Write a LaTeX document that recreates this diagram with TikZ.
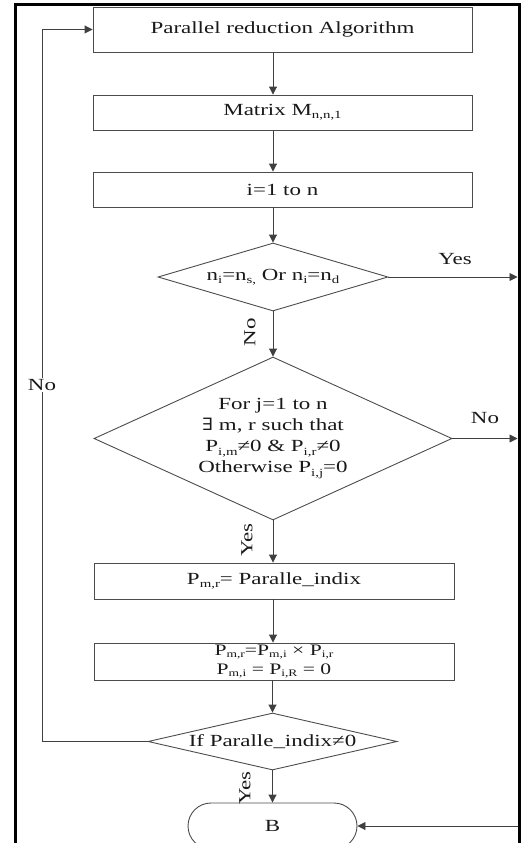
\documentclass[tikz,border=0pt]{standalone}
\usepackage{fontspec}
\setmainfont{Liberation Serif}[FakeStretch=1.35]
\newfontfamily\symfont{DejaVu Serif}[FakeStretch=1.2]
\usetikzlibrary{shapes.geometric,shapes.misc,arrows.meta}
\newcommand{\sbs}[1]{\raisebox{-0.4ex}{\fontsize{11}{11}\selectfont #1}}
\newcommand{\sbt}[1]{\raisebox{-0.25ex}{\fontsize{10}{10}\selectfont #1}}
\begin{document}
\begin{tikzpicture}[x=1pt,y=-1pt,
  txt/.style={font=\fontsize{17}{21}\selectfont, text=black!90},
  box/.style={txt, draw=black!70, line width=0.9pt, rectangle, inner sep=0pt},
  dec/.style={txt, draw=black!70, line width=0.9pt, diamond, inner sep=0pt, align=center},
  term/.style={txt, draw=black!70, line width=0.9pt, rounded rectangle, inner sep=0pt},
  arr/.style={draw=black!75, line width=0.9pt, -{Triangle[length=8pt,width=8pt]}},
  lbl/.style={txt, inner sep=1pt},
  frame/.style={draw=black, line width=3pt}]
\clip (0,0) rectangle (528,843);
\useasboundingbox (0,0) rectangle (528,843);

% outer frame
\draw[frame] (15,850) -- (15,5) -- (519,5) -- (519,850);
\coordinate (fr) at (517.5,5);
\coordinate (lp) at (42,30);

% nodes
\node[box, minimum width=379pt, minimum height=45pt] (b1) at (282.5,29.5) {Parallel reduction Algorithm};
\node[box, minimum width=379pt, minimum height=35pt] (b2) at (282.5,112.5) {Matrix M\sbs{n,n,1}};
\node[box, minimum width=379pt, minimum height=35pt] (b3) at (282.5,189.5) {i=1 to n};
\node[dec, minimum width=230pt, minimum height=68pt, aspect=3.4] (d1) at (273,277) {n\sbs{i}=n\sbs{s,} Or n\sbs{i}=n\sbs{d}};
\node[dec, minimum width=358pt, minimum height=163pt, aspect=2.2] (d2) at (273,438.5)
  {For j=1 to n\\ {\symfont ∃} m, r such that\\ P\sbs{i,m}≠0 \& P\sbs{i,r}≠0\\ Otherwise P\sbs{i,j}=0};
\node[box, minimum width=360pt, minimum height=36pt] (b4) at (274,581) {P\sbs{m,r}= Paralle\_indix};
\node[box, minimum width=360pt, minimum height=37pt, align=center, font=\fontsize{16}{19}\selectfont] (b5) at (274,661.5)
  {P\sbt{m,r}=P\sbt{m,i} × P\sbt{i,r}\\ P\sbt{m,i} = P\sbt{i,R} = 0};
\node[dec, minimum width=249pt, minimum height=57pt, label={[txt]center:If Paralle\_indix≠0}] (d3) at (272.5,741.5) {};
\node[term, minimum width=169pt, minimum height=46pt] (B) at (272.5,826) {B};

% connectors
\draw[arr] (b1.south -| d1.north) -- (b2.north -| d1.north);
\draw[arr] (b2.south -| d1.north) -- (b3.north -| d1.north);
\draw[arr] (b3.south -| d1.north) -- (d1.north);
\draw[arr] (d1.south) -- (d2.north);
\draw[arr] (d2.south) -- (b4.north -| d2.south);
\draw[arr] (b4.south -| d2.south) -- (b5.north -| d2.south);
\draw[arr] (b5.south -| d3.north) -- (d3.north);
\draw[arr] (d3.south) -- (B.north -| d3.south);
\draw[arr] (d1.east) -- (d1.east -| fr);
\draw[arr] (d2.east) -- (d2.east -| fr);
\draw[arr] (B.east -| fr) -- (B.east);
\draw[arr] (d3.west) -- (d3.west -| lp) -- (lp |- b1.west) -- (b1.west);

% labels
\node[lbl] (ly1) at (455,259) {Yes};
\node[lbl] (ln1) at (485,418) {No};
\node[lbl, rotate=90] (ln2) at (250,332) {No};
\node[lbl, rotate=90] (ly2) at (247,540) {Yes};
\node[lbl, rotate=90] (ly3) at (245,788) {Yes};
\node[lbl, fill=white] (ln3) at (42,385) {No};
\end{tikzpicture}
\end{document}
